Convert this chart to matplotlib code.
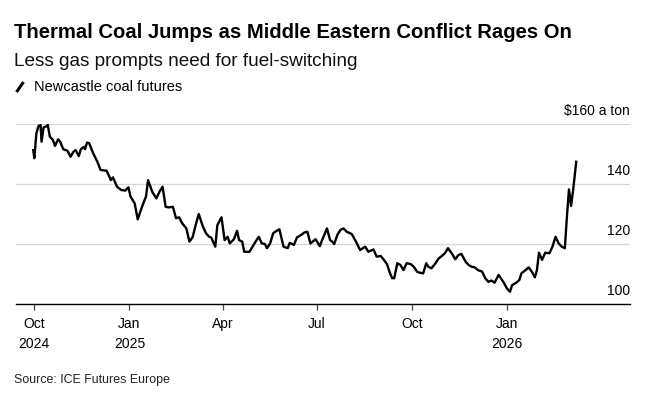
import matplotlib
matplotlib.use("Agg")
import matplotlib.pyplot as plt
from matplotlib.lines import Line2D
import pandas as pd

# Newcastle coal futures, $ per ton; days counted from 2024-10-01
START = "2024-10-01"
days = [-1, 0, 2, 4, 6, 7, 9, 11, 13, 15, 18, 20, 23, 25, 28, 32, 35, 38, 40, 43,
        45, 48, 49, 51, 53, 55, 57, 61, 64, 70, 74, 76, 80, 84, 88, 91, 93, 97, 100, 103,
        106, 108, 110, 114, 118, 121, 124, 127, 130, 134, 137, 140, 143, 147, 150, 153, 156, 159, 163, 166,
        169, 171, 175, 177, 181, 184, 187, 189, 193, 196, 198, 201, 203, 208, 211, 214, 217, 220, 223, 225,
        228, 231, 233, 237, 241, 245, 247, 251, 254, 258, 261, 264, 267, 272, 276, 279, 283, 286, 288, 290,
        293, 296, 299, 302, 307, 311, 315, 320, 323, 328, 331, 335, 338, 341, 344, 346, 348, 351, 354, 357,
        360, 364, 367, 370, 373, 376, 379, 381, 384, 388, 391, 394, 397, 400, 404, 407, 410, 413, 417, 420,
        423, 426, 429, 433, 436, 439, 442, 445, 449, 454, 457, 460, 462, 466, 469, 471, 475, 478, 481, 484,
        486, 488, 491, 494, 498, 501, 504, 507, 510, 513, 515, 517, 519, 521, 524]
price = [151.4, 148.7, 157.0, 159.4, 159.8, 154.2, 159.0, 159.2, 159.8, 155.9, 154.8, 152.8, 155.0, 154.2, 151.7, 151.2, 149.2, 150.9, 151.4, 149.4,
         151.7, 152.5, 151.7, 153.9, 153.7, 152.0, 150.3, 147.5, 144.8, 144.5, 141.4, 142.3, 139.2, 138.1, 137.9, 139.0, 135.9, 133.7, 128.3, 131.4,
         134.2, 135.9, 141.4, 137.5, 135.3, 137.5, 139.2, 132.5, 132.3, 132.5, 128.7, 129.0, 127.0, 125.3, 120.9, 122.3, 126.4, 130.1, 125.9, 123.7,
         122.5, 122.3, 119.2, 126.4, 129.0, 121.4, 122.5, 120.3, 121.7, 124.5, 121.4, 120.9, 117.5, 117.5, 119.2, 120.9, 122.5, 120.3, 120.1, 118.7,
         120.3, 123.7, 124.2, 125.0, 119.2, 118.7, 120.5, 119.8, 122.3, 123.1, 123.9, 124.2, 120.3, 121.7, 119.4, 122.0, 125.3, 121.4, 120.9, 120.1,
         123.1, 124.8, 125.3, 124.2, 123.4, 120.9, 118.1, 119.2, 117.5, 118.3, 115.9, 116.1, 114.8, 113.4, 110.3, 108.7, 108.7, 113.7, 113.1, 111.4,
         113.7, 113.4, 112.5, 110.9, 110.5, 110.3, 113.7, 112.5, 112.0, 113.7, 115.3, 116.1, 117.0, 118.7, 116.8, 115.0, 116.4, 116.8, 114.2, 113.1,
         112.5, 112.3, 111.4, 110.9, 108.7, 107.5, 107.9, 107.2, 109.8, 107.2, 105.3, 104.2, 106.4, 107.2, 108.1, 110.3, 111.4, 112.3, 110.9, 109.0,
         111.4, 117.2, 114.8, 117.2, 117.0, 119.2, 122.5, 120.3, 119.2, 118.7, 129.2, 138.3, 132.8, 138.1, 147.5]

tick_dates = ["2024-10-01", "2025-01-01", "2025-04-01", "2025-07-01", "2025-10-01", "2026-01-01"]
tick_labels = ["Oct\n2024", "Jan\n2025", "Apr", "Jul", "Oct", "Jan\n2026"]
y_ticks = [100, 120, 140, 160]
y_labels = ["100", "120", "140", "$160 a ton"]

plt.rcParams["font.family"] = "Liberation Sans"

dates = pd.Timestamp(START) + pd.to_timedelta(days, unit="D")

W, H = 657, 394
fig = plt.figure(figsize=(W / 100, H / 100), dpi=100)
ax = fig.add_axes([15.7 / W, 1 - 304.3 / H, 614.3 / W, 180 / H])

ax.plot(dates, price, color="black", lw=1.7, solid_joinstyle="round", zorder=3)

ax.set_xlim(pd.Timestamp("2024-09-13"), pd.Timestamp("2026-04-30"))
ax.set_ylim(100, 160)

for v, lab in zip(y_ticks, y_labels):
    if v > 100:
        ax.axhline(v, color="#d6d6d6", lw=0.9, zorder=1)
    ax.text(1.0, v + 2.2, lab, transform=ax.get_yaxis_transform(), ha="right", va="bottom",
            fontsize=10, color="black", clip_on=False)

ax.set_yticks([])
for s in ["top", "right", "left"]:
    ax.spines[s].set_visible(False)
ax.spines["bottom"].set_linewidth(1.0)
ax.spines["bottom"].set_color("black")

ax.set_xticks(pd.to_datetime(tick_dates))
ax.set_xticklabels(tick_labels, fontsize=10, linespacing=1.55)
ax.tick_params(axis="x", length=4.5, width=0.9, color="#444444", pad=4.5)

fig.text(14 / W, 1 - 33 / H, "Thermal Coal Jumps as Middle Eastern Conflict Rages On",
         fontsize=14.6, fontweight="bold", va="center", ha="left")
fig.text(14 / W, 1 - 61.5 / H, "Less gas prompts need for fuel-switching",
         fontsize=13.7, va="center", ha="left", color="#111111")
fig.add_artist(Line2D([16.5 / W, 23.5 / W], [1 - 92 / H, 1 - 82 / H],
                      color="black", lw=2.2, solid_capstyle="butt"))
fig.text(34 / W, 1 - 87 / H, "Newcastle coal futures", fontsize=10.5, va="center", ha="left")
fig.text(14 / W, 1 - 380.5 / H, "Source: ICE Futures Europe", fontsize=8.9, va="center",
         ha="left", color="#222222")

fig.savefig("out.png", dpi=100)
